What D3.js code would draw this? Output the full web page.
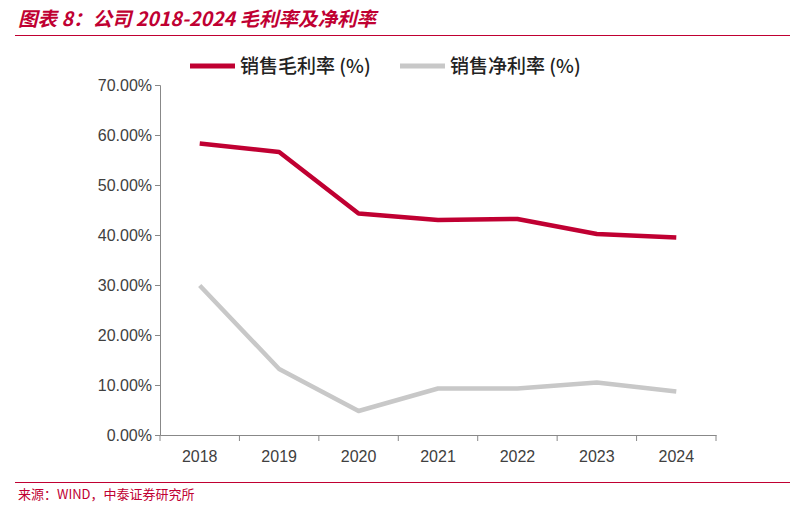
<!DOCTYPE html>
<html><head><meta charset="utf-8">
<script src="https://cdn.jsdelivr.net/npm/d3@7"></script>
<style>body{margin:0;background:#fff}</style>
</head><body>
<svg id="c" width="803" height="506"></svg>
<script>
const years = ["2018","2019","2020","2021","2022","2023","2024"];
const grossMargin = [58.3, 56.6, 44.3, 43.0, 43.2, 40.2, 39.5];
const netMargin = [29.9, 13.2, 4.8, 9.3, 9.3, 10.5, 8.7];
const yTicks = [0,10,20,30,40,50,60,70];
const seriesNames = ["销售毛利率 (%)", "销售净利率 (%)"];
const colors = ["#c00032", "#c8c8c8"];

const svg = d3.select("#c");
const font = "'Noto Sans CJK SC', 'Liberation Sans', sans-serif";
svg.append("text").attr("x",18).attr("y",26).text("图表 8：公司 2018-2024 毛利率及净利率")
  .attr("font-family",font).attr("font-size",19.5).attr("font-weight","bold").attr("font-style","italic").attr("fill","#c00032");
svg.append("line").attr("x1",15).attr("x2",790).attr("y1",35.5).attr("y2",35.5).attr("stroke","#c00032").attr("stroke-width",1);
svg.append("line").attr("x1",15).attr("x2",790).attr("y1",482.5).attr("y2",482.5).attr("stroke","#c00032").attr("stroke-width",1);
svg.append("text").attr("x",18).attr("y",499).text("来源：WIND，中泰证券研究所")
  .attr("font-family",font).attr("font-size",13).attr("fill","#c00032");

const x = d3.scaleBand().domain(years).range([160,716]);
const y = d3.scaleLinear().domain([0,70]).range([435,85]);

const ya = svg.append("g").attr("transform","translate(160,0)")
  .call(d3.axisLeft(y).tickValues(yTicks).tickFormat(d=>d.toFixed(2)+"%").tickSize(5));
ya.selectAll("text").attr("font-family","'Liberation Sans', Arial, sans-serif").attr("font-size",16).attr("fill","#404040");
ya.selectAll("line,path").attr("stroke","#888");

const xa = svg.append("g").attr("transform","translate(0,435)")
  .call(d3.axisBottom(x).tickSize(0).tickPadding(16));
xa.selectAll("text").attr("font-family","'Liberation Sans', Arial, sans-serif").attr("font-size",16).attr("fill","#404040");
xa.select("path").attr("stroke","#888");
xa.selectAll(".sep").data(years.concat(["end"])).enter().append("line")
  .attr("x1",(d,i)=>160+i*x.step()).attr("x2",(d,i)=>160+i*x.step()).attr("y1",0).attr("y2",6).attr("stroke","#888");

const line = d3.line().x((d,i)=>x(years[i])+x.bandwidth()/2).y(d=>y(d));
[netMargin, grossMargin].forEach((s,k)=>{
  svg.append("path").datum(s).attr("d",line).attr("fill","none")
    .attr("stroke", colors[1-k]).attr("stroke-width",4.5).attr("stroke-linejoin","round");
});

const lg = [[190,240],[400,450]];
seriesNames.forEach((n,i)=>{
  svg.append("line").attr("x1",lg[i][0]).attr("x2",lg[i][0]+45).attr("y1",66).attr("y2",66)
    .attr("stroke",colors[i]).attr("stroke-width",5);
  svg.append("text").attr("x",lg[i][1]).attr("y",73).text(n).attr("font-family",font)
    .attr("font-size",19).attr("font-weight","500").attr("fill","#222");
});
</script>
</body></html>
